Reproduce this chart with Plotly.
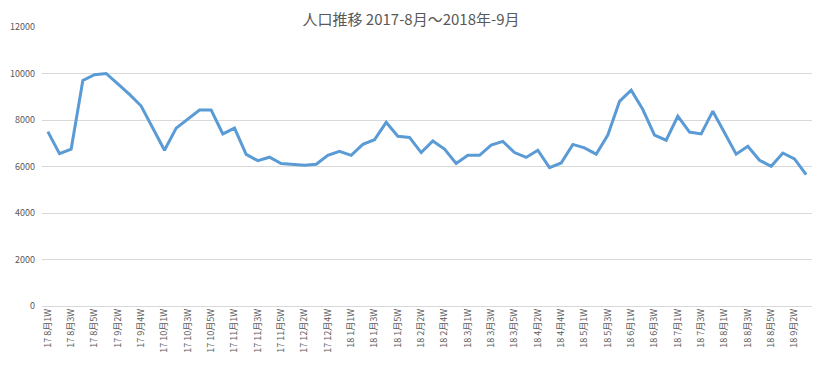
import plotly.graph_objects as go

categories = [
    "17 8月1W", "17 8月2W", "17 8月3W", "17 8月4W", "17 8月5W",
    "17 9月1W", "17 9月2W", "17 9月3W", "17 9月4W", "17 9月5W",
    "17 10月1W", "17 10月2W", "17 10月3W", "17 10月4W", "17 10月5W", "17 10月6W",
    "17 11月1W", "17 11月2W", "17 11月3W", "17 11月4W", "17 11月5W",
    "17 12月1W", "17 12月2W", "17 12月3W", "17 12月4W", "17 12月5W",
    "18 1月1W", "18 1月2W", "18 1月3W", "18 1月4W", "18 1月5W",
    "18 2月1W", "18 2月2W", "18 2月3W", "18 2月4W", "18 2月5W",
    "18 3月1W", "18 3月2W", "18 3月3W", "18 3月4W", "18 3月5W",
    "18 4月1W", "18 4月2W", "18 4月3W", "18 4月4W", "18 4月5W",
    "18 5月1W", "18 5月2W", "18 5月3W", "18 5月4W",
    "18 6月1W", "18 6月2W", "18 6月3W", "18 6月4W",
    "18 7月1W", "18 7月2W", "18 7月3W", "18 7月4W",
    "18 8月1W", "18 8月2W", "18 8月3W", "18 8月4W", "18 8月5W",
    "18 9月1W", "18 9月2W", "18 9月3W",
]

population = [
    7500, 6550, 6750, 9700, 9950,
    10000, 9550, 9100, 8600, 7650,
    6700, 7650, 8050, 8430, 8430, 7400,
    7650, 6520, 6250, 6400, 6130,
    6080, 6050, 6100, 6480, 6650,
    6480, 6950, 7150, 7900, 7300,
    7250, 6600, 7100, 6750, 6130,
    6480, 6480, 6920, 7080, 6600,
    6390, 6700, 5950, 6150, 6950,
    6800, 6530, 7350, 8800,
    9280, 8450, 7350, 7130,
    8170, 7480, 7400, 8380,
    7450, 6530, 6870, 6270, 6010,
    6580, 6330, 5650,
]

title_text = "人口推移 2017-8月～2018年-9月"
y_ticks = [0, 2000, 4000, 6000, 8000, 10000, 12000]
x_tick_labels = categories[::2]

font_family = "Noto Sans CJK JP, Noto Sans, sans-serif"
text_color = "#595959"
grid_color = "#d9d9d9"

fig = go.Figure()
fig.add_trace(go.Scatter(
    x=categories,
    y=population,
    mode="lines",
    line=dict(color="#5b9bd5", width=3),
    name="人口",
))

fig.update_layout(
    width=822,
    height=373,
    margin=dict(l=37, r=10, t=27, b=67),
    paper_bgcolor="white",
    plot_bgcolor="white",
    showlegend=False,
    font=dict(family=font_family, color=text_color, size=9),
    title=dict(
        text=title_text,
        x=0.5,
        xref="container",
        xanchor="center",
        y=1 - 20 / 373,
        yref="container",
        yanchor="middle",
        font=dict(family=font_family, size=15, color=text_color),
    ),
)

fig.update_xaxes(
    type="category",
    categoryorder="array",
    categoryarray=categories,
    range=[-0.5, len(categories) - 0.5],
    tickmode="array",
    tickvals=x_tick_labels,
    ticktext=x_tick_labels,
    tickangle=-90,
    tickfont=dict(size=9, color=text_color, family=font_family),
    showgrid=False,
    showline=False,
    zeroline=False,
    ticks="",
)

fig.update_yaxes(
    range=[0, 12000],
    tickmode="array",
    tickvals=y_ticks,
    ticktext=[str(v) for v in y_ticks],
    tickfont=dict(size=9, color=text_color, family=font_family),
    showgrid=True,
    gridcolor=grid_color,
    gridwidth=1,
    zeroline=True,
    zerolinecolor=grid_color,
    zerolinewidth=1,
    showline=False,
    ticks="",
    ticklabelstandoff=6,
)

fig.write_html("out.html")
